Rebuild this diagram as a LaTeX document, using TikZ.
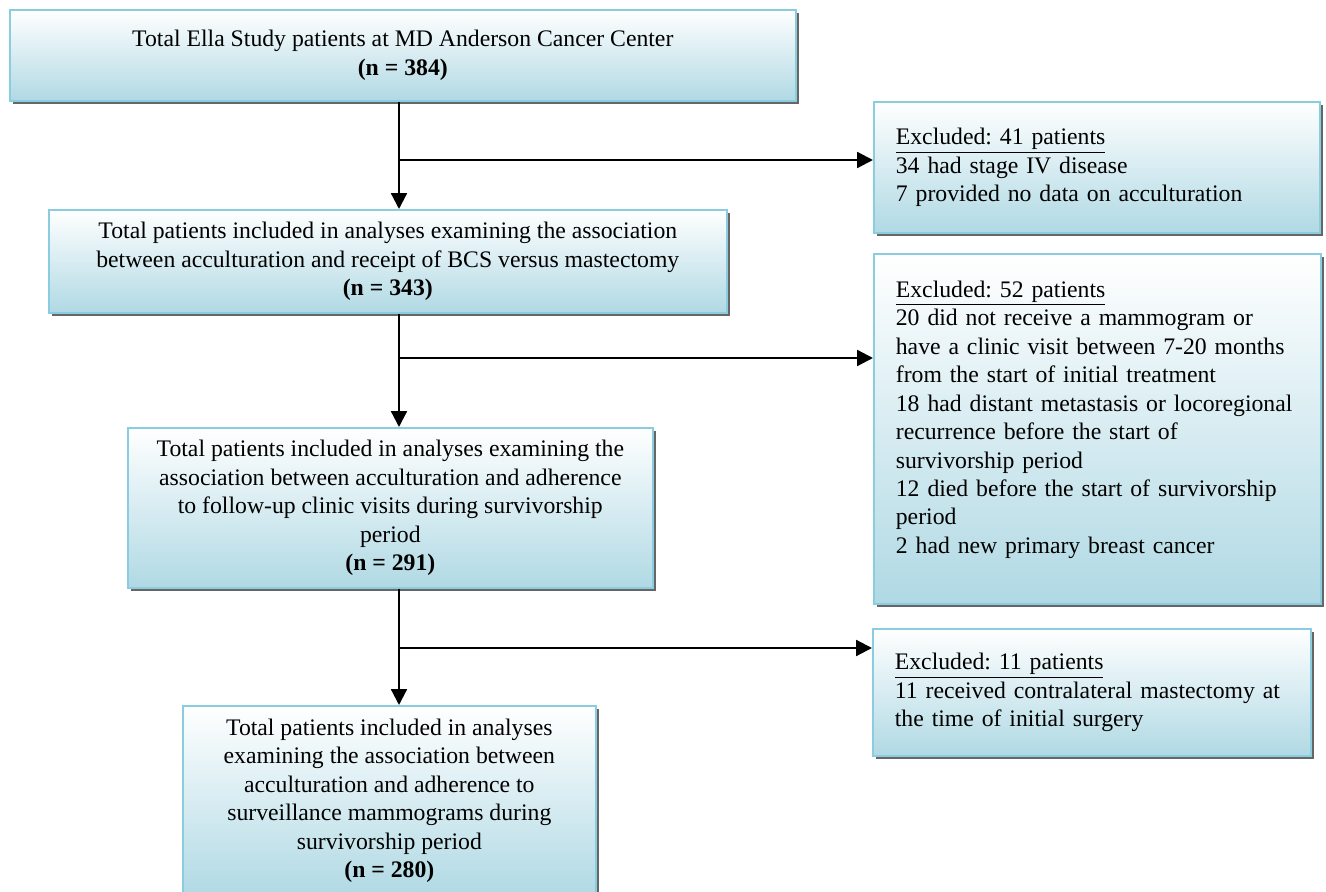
\documentclass[tikz,border=0pt]{standalone}
\usepackage{fontspec}
\setmainfont{Liberation Serif}
\usepackage{xcolor}
\usepackage{tikz}
\usetikzlibrary{positioning, arrows.meta, shadows}
\definecolor{boxline}{HTML}{8ACDE0}
\definecolor{boxfill}{HTML}{B0D9E4}
\frenchspacing

\begin{document}
\begin{tikzpicture}[
    x = 0.02cm, y = -0.02cm,
    every node/.style = {font=\fontsize{13.5}{16.2}\selectfont},
    box/.style = {
        draw=boxline, line width=1pt, rectangle, anchor=north west,
        top color=white, bottom color=boxfill, inner xsep=0.44cm,
        drop shadow={shadow xshift=0.07cm, shadow yshift=-0.07cm, fill=black!60, opacity=1}
    },
    mainbox/.style = {box, align=center},
    exbox/.style = {box, align=left},
    arr/.style = {-{Triangle[length=9pt, width=9pt]}, line width=1.3pt}
  ]
    \useasboundingbox (0,0) rectangle (1326,892);

    % main column
    \node[mainbox, minimum width=15.72cm, minimum height=1.82cm] (total) at (9,9)
        {Total Ella Study patients at MD Anderson Cancer Center\\ \textbf{(n = 384)}};
    \node[mainbox, minimum width=13.56cm, minimum height=2.06cm] (bcs) at (48,209)
        {Total patients included in analyses examining the association\\
         between acculturation and receipt of BCS versus mastectomy\\ \textbf{(n = 343)}};
    \node[mainbox, minimum width=10.5cm, minimum height=3.2cm] (visits) at (127,427)
        {Total patients included in analyses examining the\\
         association between acculturation and adherence\\
         to follow-up clinic visits during survivorship\\ period\\ \textbf{(n = 291)}};
    \node[mainbox, minimum width=8.26cm, minimum height=3.8cm] (mammo) at (182,705)
        {Total patients included in analyses\\ examining the association between\\
         acculturation and adherence to\\ surveillance mammograms during\\
         survivorship period\\ \textbf{(n = 280)}};

    % exclusions
    \node[exbox, text width=8.04cm, minimum height=2.62cm] (ex1) at (873,101)
        {\underline{Excluded: 41 patients}\\ 34 had stage IV disease\\
         7 provided no data on acculturation};
    \node[exbox, text width=8.06cm, minimum height=7.0cm] (ex2) at (873,253)
        {\underline{Excluded: 52 patients}\\ 20 did not receive a mammogram or\\
         have a clinic visit between 7-20 months\\ from the start of initial treatment\\
         18 had distant metastasis or locoregional\\ recurrence before the start of\\
         survivorship period\\ 12 died before the start of survivorship\\ period\\
         2 had new primary breast cancer\\[-0.1cm] \mbox{}};  % blank line lifts text
    \node[exbox, text width=7.88cm, minimum height=2.54cm] (ex3) at (872,628)
        {\underline{Excluded: 11 patients}\\ 11 received contralateral mastectomy at\\
         the time of initial surgery};

    % connectors
    \coordinate (trunk) at (399,0);
    \coordinate (j1) at (399,160);
    \coordinate (j2) at (399,358);
    \coordinate (j3) at (399,648);
    \draw[arr] (total.south -| trunk) -- (bcs.north -| trunk);
    \draw[arr] (bcs.south -| trunk) -- (visits.north -| trunk);
    \draw[arr] (visits.south -| trunk) -- (mammo.north -| trunk);
    \draw[arr] (j1) -- (j1 -| ex1.west);
    \draw[arr] (j2) -- (j2 -| ex2.west);
    \draw[arr] (j3) -- (j3 -| ex3.west);
\end{tikzpicture}
\end{document}
